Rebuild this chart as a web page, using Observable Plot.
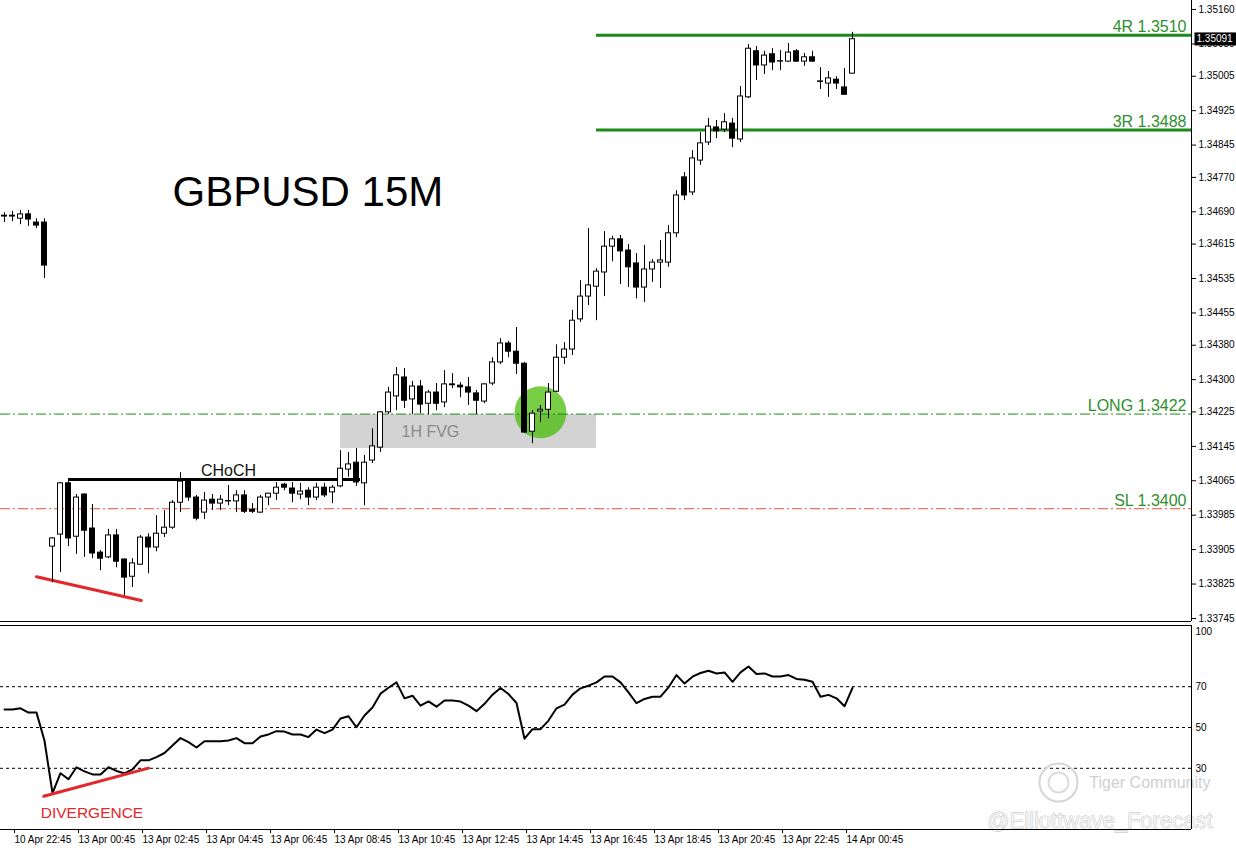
<!DOCTYPE html>
<html><head><meta charset="utf-8">
<script src="https://cdn.jsdelivr.net/npm/d3@7"></script>
<script src="https://cdn.jsdelivr.net/npm/@observablehq/plot@0.6"></script>
<style>html,body{margin:0;padding:0;background:#fff;} #chart svg{display:block;}</style>
</head><body><div id="chart"></div>
<script>
// ---------- DATA ----------
const opens = [1.34679,1.34681,1.34674,1.34684,1.34665,1.34665,1.33912,1.33940,1.34059,1.33935,
1.34033,1.33954,1.33898,1.33887,1.33938,1.33882,1.33842,1.33870,1.33933,1.33910,
1.33942,1.33956,1.34014,1.34065,1.34026,1.33991,1.34021,1.34012,1.34017,1.34017,
1.34031,1.33998,1.33991,1.34026,1.34035,1.34056,1.34047,1.34033,1.34042,1.34026,
1.34049,1.34038,1.34052,1.34091,1.34107,1.34059,1.34112,1.34142,1.34224,1.34261,
1.34305,1.34254,1.34284,1.34244,1.34270,1.34247,1.34289,1.34286,1.34282,1.34268,
1.34249,1.34291,1.34340,1.34384,1.34365,1.34337,1.34179,1.34226,1.34230,1.34272,
1.34351,1.34370,1.34440,1.34493,1.34516,1.34549,1.34609,1.34626,1.34600,1.34570,
1.34514,1.34556,1.34572,1.34572,1.34640,1.34770,1.34735,1.34809,1.34851,1.34886,
1.34881,1.34895,1.34858,1.34956,1.35063,1.35030,1.35056,1.35039,1.35039,1.35063,
1.35039,1.35049,1.34993,1.34988,1.34997,1.34979,1.35011];
const highs = [1.34688,1.34691,1.34693,1.34693,1.34674,1.34674,1.33933,1.34061,1.34068,1.34033,
1.34035,1.34010,1.33903,1.33952,1.33952,1.33884,1.33884,1.33938,1.33942,1.33984,
1.33996,1.34019,1.34084,1.34070,1.34031,1.34038,1.34033,1.34031,1.34054,1.34042,
1.34042,1.34012,1.34031,1.34036,1.34061,1.34059,1.34061,1.34059,1.34049,1.34059,
1.34059,1.34054,1.34135,1.34131,1.34140,1.34124,1.34186,1.34226,1.34282,1.34328,
1.34326,1.34296,1.34298,1.34275,1.34291,1.34321,1.34314,1.34293,1.34305,1.34275,
1.34291,1.34351,1.34395,1.34389,1.34421,1.34340,1.34228,1.34240,1.34291,1.34381,
1.34386,1.34461,1.34530,1.34651,1.34558,1.34644,1.34633,1.34635,1.34614,1.34593,
1.34612,1.34579,1.34623,1.34658,1.34739,1.34781,1.34832,1.34874,1.34907,1.34902,
1.34918,1.34907,1.34981,1.35079,1.35074,1.35063,1.35069,1.35065,1.35081,1.35067,
1.35058,1.35063,1.35025,1.35016,1.35004,1.35023,1.35107];
const lows = [1.34665,1.34667,1.34660,1.34656,1.34651,1.34535,1.33828,1.33852,1.33912,1.33894,
1.33887,1.33884,1.33856,1.33884,1.33863,1.33798,1.33817,1.33868,1.33849,1.33900,
1.33933,1.33952,1.33991,1.34017,1.33972,1.33975,1.33996,1.33996,1.34007,1.33991,
1.33989,1.33989,1.33989,1.34007,1.34019,1.34042,1.34014,1.34021,1.34007,1.34019,
1.34026,1.34012,1.34049,1.34073,1.34052,1.34007,1.34105,1.34131,1.34219,1.34228,
1.34233,1.34219,1.34221,1.34219,1.34228,1.34235,1.34279,1.34258,1.34240,1.34219,
1.34244,1.34286,1.34335,1.34351,1.34312,1.34175,1.34151,1.34200,1.34209,1.34270,
1.34335,1.34356,1.34433,1.34472,1.34437,1.34493,1.34574,1.34521,1.34514,1.34488,
1.34479,1.34526,1.34512,1.34561,1.34630,1.34716,1.34728,1.34798,1.34844,1.34860,
1.34874,1.34839,1.34851,1.34953,1.34995,1.35009,1.35018,1.35018,1.35037,1.35037,
1.35028,1.35037,1.34974,1.34956,1.34974,1.34961,1.35010];
const closes = [1.34681,1.34679,1.34684,1.34672,1.34658,1.34565,1.33931,1.34059,1.33931,1.34026,
1.33949,1.33896,1.33884,1.33938,1.33877,1.33840,1.33873,1.33933,1.33910,1.33942,
1.33956,1.34014,1.34063,1.34026,1.33977,1.34019,1.34012,1.34021,1.34018,1.34031,
1.33993,1.33993,1.34026,1.34035,1.34049,1.34049,1.34035,1.34040,1.34026,1.34049,
1.34031,1.34049,1.34093,1.34103,1.34061,1.34107,1.34145,1.34224,1.34270,1.34310,
1.34251,1.34284,1.34242,1.34270,1.34244,1.34289,1.34287,1.34282,1.34270,1.34251,
1.34289,1.34340,1.34384,1.34365,1.34337,1.34177,1.34221,1.34230,1.34270,1.34351,
1.34370,1.34437,1.34493,1.34519,1.34551,1.34609,1.34626,1.34598,1.34561,1.34514,
1.34556,1.34572,1.34577,1.34640,1.34728,1.34728,1.34814,1.34849,1.34888,1.34877,
1.34898,1.34860,1.34958,1.35069,1.35030,1.35053,1.35037,1.35040,1.35060,1.35039,
1.35049,1.35039,1.34992,1.35000,1.34988,1.34962,1.35091];
const rsiValues = [58.8,58.8,59.4,57.3,57.3,43.5,17.8,27.6,24.6,30.5,
28.5,27,27,30.5,28.7,27.5,29.5,33.9,33.9,35.5,
37.5,41.2,44.8,42.8,40.2,43.3,43.3,43.3,43.6,44.8,
42.3,42.3,45.6,46.6,48.2,48,46.6,46.6,45.3,49,
47.2,49,54.4,55.5,50.1,55.9,59.8,66.6,69.5,72.1,
64.3,65.6,60.7,62.8,60.2,63.2,63.2,62.7,60.7,58,
61.6,66.1,69.4,66.4,62,44.5,49.2,49.2,53.4,59.4,
61.2,66.1,69.2,70.5,72.1,75,75,72.1,67.2,61.9,
64,65.1,65.1,69.7,75.7,71.6,74.9,76.7,77.8,76.5,
77,72.4,77,79.9,76.2,76.5,75,75,75.7,73.8,
73.4,72.4,65.1,66,64.3,60.4,69.4];
const priceTicks = [1.35160,1.35080,1.35005,1.34925,1.34845,1.34770,1.34690,1.34615,1.34535,1.34455,
1.34380,1.34300,1.34225,1.34145,1.34065,1.33985,1.33905,1.33825,1.33745];
const rsiTicks = [70, 50, 30];
const timeTickLabels = ["10 Apr 22:45","13 Apr 00:45","13 Apr 02:45","13 Apr 04:45","13 Apr 06:45",
"13 Apr 08:45","13 Apr 10:45","13 Apr 12:45","13 Apr 14:45","13 Apr 16:45","13 Apr 18:45",
"13 Apr 20:45","13 Apr 22:45","14 Apr 00:45"];
const timeTickBars = timeTickLabels.map((_, k) => 1 + 8 * k); // one label every 8 bars (2h of 15M)
const targetLevels = [{label: "4R 1.3510", price: 1.3510, from: 74}, {label: "3R 1.3488", price: 1.3488, from: 74}];
const entryLevels = [{label: "LONG 1.3422", price: 1.3422}];
const stopLevels = [{label: "SL 1.3400", price: 1.3400}];
const fvgZones = [{label: "1H FVG", from: 42, to: 74, low: 1.34140, high: 1.34219}];
const entryMarks = [{bar: 67, price: 1.34224}];
const chochLines = [{label: "CHoCH", price: 1.34068, from: 8, to: 44.5}];
const priceDivergence = [{bar: 4, price: 1.33842}, {bar: 17.1, price: 1.33787}];
const rsiDivergence = [{bar: 4.9, value: 16.3, label: "DIVERGENCE"}, {bar: 18.0, value: 30.1}];
const lastPrice = [{price: 1.35091}];
const title = ["GBPUSD 15M"];
const watermarks = ["Tiger Community", "@Elliottwave_Forecast"];

// ---------- CHART ----------
const FONT = "'Liberation Sans', Arial, sans-serif";
const xMax = 148.375;
const xDomain = [-0.5, xMax];
const yDomain = [1.33738, 1.35181];
const GREEN = "#1b8a1b", TEXTGREEN = "#2e8f2e", RED = "#e5262b";
const candles = opens.map((o, i) => ({i, o, h: highs[i], l: lows[i], c: closes[i]}));
const bw = 0.3125;

const main = Plot.plot({
  width: 1236, height: 623,
  marginTop: 0, marginRight: 45, marginBottom: 2, marginLeft: 0,
  style: {background: "#fff", fontFamily: FONT, overflow: "visible"},
  x: {domain: xDomain, axis: null, label: null},
  y: {domain: yDomain, label: null},
  marks: [
    Plot.rect(fvgZones, {x1: "from", x2: "to", y1: "low", y2: "high", fill: "#d3d3d3"}),
    Plot.text(fvgZones, {x: "from", y: d => (d.low + d.high) / 2, text: "label", textAnchor: "start", dx: 61, fill: "#8a8a8a", fontSize: 16}),
    Plot.dot(entryMarks, {x: "bar", y: "price", r: 26, fill: "#44bb00", fillOpacity: 0.72}),
    Plot.ruleY(targetLevels, {y: "price", x1: "from", x2: xMax, stroke: GREEN, strokeWidth: 3}),
    Plot.ruleY(entryLevels, {y: "price", stroke: GREEN, strokeWidth: 1, strokeDasharray: "10,3,2,3"}),
    Plot.ruleY(stopLevels, {y: "price", stroke: "#e0563c", strokeWidth: 1, strokeDasharray: "10,3,2,3"}),
    Plot.text([...targetLevels, ...entryLevels, ...stopLevels], {x: xMax, y: "price", text: "label", textAnchor: "end", dx: -5, dy: -8, fill: TEXTGREEN, fontSize: 16}),
    Plot.ruleY(chochLines, {y: "price", x1: "from", x2: "to", stroke: "black", strokeWidth: 3}),
    Plot.text(chochLines, {x: d => (d.from + d.to) / 2, y: "price", text: "label", dx: 14, dy: -9, fill: "#111", fontSize: 16}),
    Plot.line(priceDivergence, {x: "bar", y: "price", stroke: RED, strokeWidth: 3}),
    Plot.ruleX(candles, {x: "i", y1: "l", y2: "h", stroke: "black", strokeWidth: 1}),
    Plot.rect(candles, {x1: d => d.i - bw, x2: d => d.i + bw, y1: "o", y2: "c", fill: d => d.c >= d.o ? "white" : "black", stroke: "black", strokeWidth: 1}),
    Plot.text(title, {text: d => d, frameAnchor: "top-left", dx: 172, dy: 176, textAnchor: "start", fontSize: 42, fill: "#000"}),
    Plot.ruleY([yDomain[0]], {stroke: "black"}),
    Plot.ruleX([xMax], {stroke: "black"}),
    Plot.axisY(priceTicks, {anchor: "right", tickSize: 4, tickPadding: 3, fontSize: 10, tickFormat: d => d.toFixed(5), label: null}),
    Plot.text(lastPrice, {x: xMax, y: "price", text: d => d.price.toFixed(5), textAnchor: "start", dx: 5, fill: "white", fontSize: 10})
  ]
});

const rsi = Plot.plot({
  width: 1236, height: 228,
  marginTop: 2, marginRight: 45, marginBottom: 22, marginLeft: 0,
  style: {background: "#fff", fontFamily: FONT, overflow: "visible"},
  x: {domain: xDomain, label: null},
  y: {domain: [0, 100], label: null},
  marks: [
    Plot.ruleY(rsiTicks, {stroke: "black", strokeDasharray: "3,3", strokeWidth: 1}),
    Plot.dot([0], {frameAnchor: "bottom-right", dx: -133, dy: -47, r: 19, stroke: "#d4d4d4", strokeWidth: 2, fill: "none"}),
    Plot.dot([0], {frameAnchor: "bottom-right", dx: -133, dy: -47, r: 10, stroke: "#dcdcdc", strokeWidth: 2, fill: "none"}),
    Plot.text([watermarks[0]], {text: d => d, frameAnchor: "bottom-right", dx: 19, dy: -42, textAnchor: "end", fontSize: 16, fill: "#cfcfcf"}),
    Plot.text([watermarks[1]], {text: d => d, frameAnchor: "bottom-right", dx: 21, dy: -2, textAnchor: "end", fontSize: 22, fill: "#f2f2f2", stroke: "#bdbdbd", strokeWidth: 0.8}),
    Plot.line(rsiValues, {x: (d, i) => i, y: d => d, stroke: "black", strokeWidth: 2}),
    Plot.line(rsiDivergence, {x: "bar", y: "value", stroke: RED, strokeWidth: 3}),
    Plot.text(rsiDivergence.filter(d => d.label), {x: "bar", y: "value", text: "label", textAnchor: "start", dx: -3, dy: 17, fill: RED, fontSize: 15.5}),
    Plot.ruleY([0, 100], {stroke: "black"}),
    Plot.ruleX([xMax], {stroke: "black"}),
    Plot.axisY(rsiTicks, {anchor: "right", tickSize: 0, tickPadding: 4, fontSize: 10, label: null}),
    Plot.text([100], {x: xMax, y: d => d, text: d => String(d), textAnchor: "start", dx: 4, dy: 6, fontSize: 10, fill: "black"}),
    Plot.axisX(timeTickBars, {anchor: "bottom", tickSize: 4, tickPadding: 2, textAnchor: "start", dx: 2, fontSize: 10, label: null,
      tickFormat: d => timeTickLabels[timeTickBars.indexOf(d)]})
  ]
});

const root = document.getElementById("chart");
root.appendChild(main);
root.appendChild(rsi);

// black box behind the current-price label
for (const t of main.querySelectorAll("text")) {
  if (t.textContent === lastPrice[0].price.toFixed(5) && t.closest("g[fill='white']")) {
    const b = t.getBBox();
    const r = document.createElementNS("http://www.w3.org/2000/svg", "rect");
    r.setAttribute("x", b.x - 2); r.setAttribute("y", b.y - 1);
    r.setAttribute("width", 1236 - (b.x - 2)); r.setAttribute("height", b.height + 2);
    r.setAttribute("fill", "black");
    const ctm = t.getAttribute("transform");
    if (ctm) r.setAttribute("transform", ctm);
    t.parentNode.insertBefore(r, t);
  }
}
</script></body></html>
